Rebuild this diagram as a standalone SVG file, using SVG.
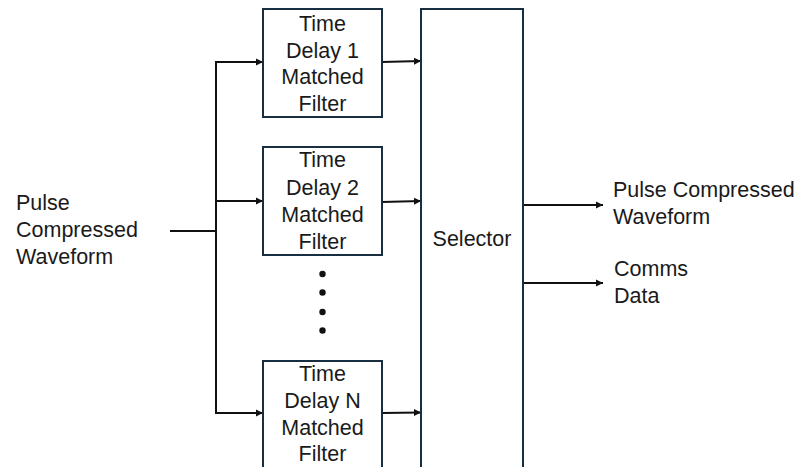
<svg xmlns="http://www.w3.org/2000/svg" width="799" height="467" viewBox="0 0 799 467">
<style>
.box{fill:#fff;stroke:#172f40;stroke-width:2}
.t{font-family:"Liberation Sans",Arial,sans-serif;font-size:21.5px;fill:#1a1a1a}
.c{text-anchor:middle}
.ln{fill:none;stroke:#111;stroke-width:2}
.ar{marker-end:url(#ah)}
</style>
<defs>
<marker id="ah" markerWidth="8" markerHeight="8" refX="7" refY="4" orient="auto" markerUnits="userSpaceOnUse">
<path d="M0,0.5 L7,4 L0,7.5 Z" fill="#111"/>
</marker>
</defs>
<rect width="799" height="467" fill="#fff"/>
<g id="connectors">
<line class="ln" x1="170" y1="231" x2="216" y2="231"/>
<line class="ln" x1="216" y1="61" x2="216" y2="414"/>
<line class="ln ar" x1="215" y1="62" x2="263" y2="62"/>
<line class="ln ar" x1="215" y1="201" x2="263" y2="201"/>
<line class="ln ar" x1="215" y1="413" x2="263" y2="413"/>
<line class="ln ar" x1="382" y1="62" x2="421" y2="61"/>
<line class="ln ar" x1="382" y1="202" x2="421" y2="201"/>
<line class="ln ar" x1="382" y1="413" x2="421" y2="412.5"/>
<line class="ln ar" x1="523" y1="205" x2="603" y2="205"/>
<line class="ln ar" x1="523" y1="283" x2="603" y2="283"/>
</g>
<g id="input-label">
<text class="t" x="16" y="209.5">Pulse</text>
<text class="t" x="16" y="237">Compressed</text>
<text class="t" x="16" y="263.5">Waveform</text>
</g>
<g id="filter1">
<rect class="box" x="263" y="9" width="119" height="108"/>
<text class="t c" x="322.5" y="31">Time</text>
<text class="t c" x="322.5" y="57.5">Delay 1</text>
<text class="t c" x="322.5" y="84">Matched</text>
<text class="t c" x="322.5" y="111">Filter</text>
</g>
<g id="filter2">
<rect class="box" x="263" y="147" width="119" height="108"/>
<text class="t c" x="322.5" y="167">Time</text>
<text class="t c" x="322.5" y="195">Delay 2</text>
<text class="t c" x="322.5" y="222">Matched</text>
<text class="t c" x="322.5" y="248.5">Filter</text>
</g>
<g id="dots" fill="#111">
<circle cx="322.5" cy="274" r="3.2"/>
<circle cx="322.5" cy="292.5" r="3.2"/>
<circle cx="322.5" cy="312" r="3.2"/>
<circle cx="322.5" cy="330.5" r="3.2"/>
</g>
<g id="filterN">
<rect class="box" x="263" y="361" width="119" height="110"/>
<text class="t c" x="322.5" y="380.5">Time</text>
<text class="t c" x="322.5" y="407.5">Delay N</text>
<text class="t c" x="322.5" y="434.5">Matched</text>
<text class="t c" x="322.5" y="461">Filter</text>
</g>
<g id="selector">
<rect class="box" x="421" y="9" width="102" height="462"/>
<text class="t c" x="472" y="246">Selector</text>
</g>
<g id="output1">
<text class="t" x="613" y="197">Pulse Compressed</text>
<text class="t" x="613" y="224">Waveform</text>
</g>
<g id="output2">
<text class="t" x="614" y="276">Comms</text>
<text class="t" x="614" y="303">Data</text>
</g>
</svg>
